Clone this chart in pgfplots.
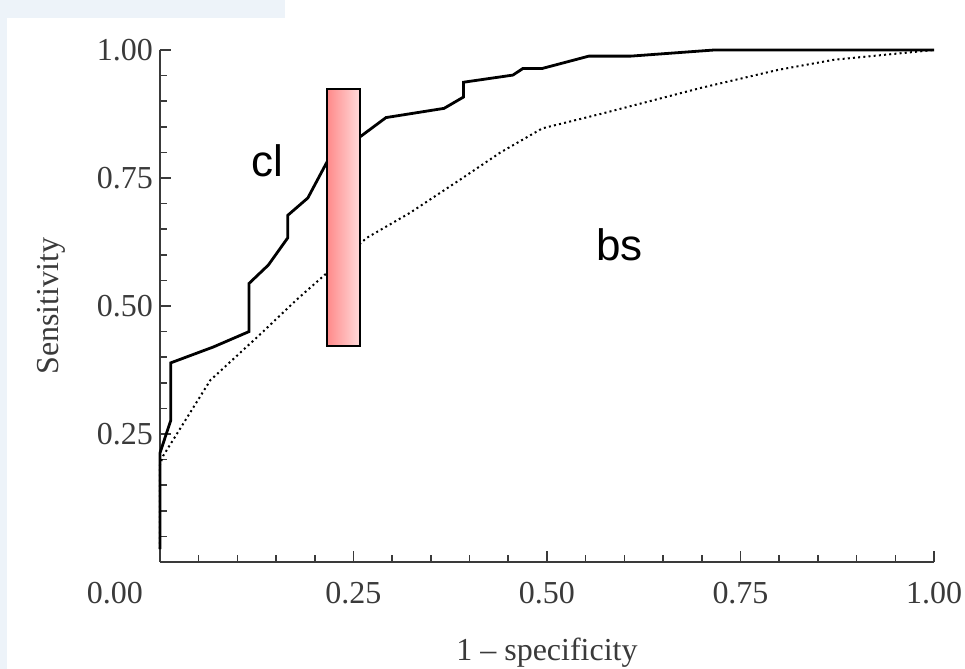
\documentclass[border=0pt]{standalone}
\usepackage{fontspec}
\setmainfont{Liberation Serif}
\newfontfamily\arial{Liberation Sans}
\usepackage{pgfplots}
\pgfplotsset{compat=1.18}
\definecolor{axgray}{HTML}{3A3A3A}
\definecolor{bgblue}{HTML}{EDF3F9}
\definecolor{rdark}{HTML}{FF8A8A}
\definecolor{rlight}{HTML}{FFDCDC}
\begin{document}
\begin{tikzpicture}
\fill[white] (-80pt,-53.5pt) rectangle (402.5pt,281pt);
\fill[bgblue] (-80pt,-53.5pt) rectangle (-76.5pt,281pt);
\fill[bgblue] (-80pt,272pt) rectangle (62.5pt,281pt);
\begin{axis}[
  at={(0,0)}, anchor=south west,
  scale only axis, width=387pt, height=256pt,
  xmin=0, xmax=1, ymin=0, ymax=1,
  clip=false,
  axis x line=bottom, axis y line=left,
  axis line style={-, axgray, line width=0.9pt},
  tick align=inside,
  major tick length=5.5pt, minor tick length=3.5pt,
  every tick/.style={axgray, line width=0.8pt},
  xtick={0.25,0.5,0.75,1}, ytick={0.25,0.5,0.75,1},
  xticklabels={0.25,0.50,0.75,1.00}, yticklabels={0.25,0.50,0.75,1.00},
  minor xtick={0,0.05,...,1}, minor ytick={0,0.05,...,1},
  extra x ticks={0}, extra x tick labels={0.00},
  extra x tick style={xticklabel style={anchor=north east, xshift=-5pt}},
  ticklabel style={font=\fontsize{16}{19}\selectfont, text=axgray},
  xticklabel style={yshift=-6.5pt},
  /pgf/number format/assume math mode=true,
  xlabel={1 -- specificity}, ylabel={Sensitivity},
  xlabel style={at={(axis description cs:0.5,-0.1914)}, anchor=base, font=\fontsize{16}{19}\selectfont, text=axgray},
  ylabel style={at={(axis description cs:-0.1305,0.5)}, anchor=base, font=\fontsize{16}{19}\selectfont, text=axgray},
]
\addplot[black, line width=1pt, dash pattern=on 1pt off 1.6pt] coordinates {
(0,0.025) (0,0.19) (0.004,0.207) (0.065,0.355) (0.129,0.444) (0.177,0.513)
(0.267,0.633) (0.323,0.682) (0.388,0.747) (0.44,0.80) (0.494,0.847)
(0.569,0.875) (0.699,0.926) (0.798,0.961) (0.871,0.981) (1,1)
};
\addplot[black, line width=1.4pt] coordinates {
(0,0.025) (0,0.213) (0.014,0.277) (0.014,0.389) (0.069,0.42) (0.115,0.45)
(0.115,0.544) (0.140,0.58) (0.165,0.633) (0.165,0.677) (0.191,0.711)
(0.216,0.782) (0.259,0.831) (0.292,0.868) (0.367,0.886) (0.392,0.908)
(0.392,0.937) (0.456,0.951) (0.469,0.964) (0.494,0.964) (0.554,0.988)
(0.608,0.988) (0.716,1.0) (1,1)
};
\shadedraw[left color=rdark, right color=rlight, draw=black, line width=1pt]
  (axis cs:0.216,0.422) rectangle (axis cs:0.259,0.923);
\node[font=\arial\fontsize{22}{26}\selectfont, anchor=base west, inner sep=0] at (axis cs:0.1176,0.7525) {cl};
\node[font=\arial\fontsize{22}{26}\selectfont, anchor=base west, inner sep=0] at (axis cs:0.563,0.588) {bs};
\end{axis}
\pgfresetboundingbox
\path[use as bounding box] (-80pt,-53.5pt) rectangle (402.5pt,281pt);
\end{tikzpicture}
\end{document}
